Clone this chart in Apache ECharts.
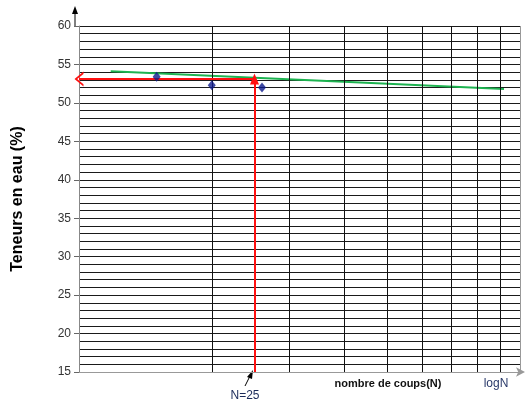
<!DOCTYPE html>
<html>
<head>
<meta charset="utf-8">
<script src="https://cdn.jsdelivr.net/npm/echarts@6/dist/echarts.min.js"></script>
<style>
html, body { margin: 0; padding: 0; background: #fff; }
#chart { width: 530px; height: 407px; }
</style>
</head>
<body>
<div id="chart"></div>
<script>
// points de mesure (N, teneur en eau %)
var coups = [15, 20, 26];
var teneurs = [53.4, 52.3, 52.0];
// droite d'ecoulement
var droiteN = [11.8, 92];
var droiteW = [54.1, 51.8];
// lecture a N=25
var nLecture = 25;
var wLecture = 53.1;
// graduations verticales (echelle log)
var gradN = [20, 30, 40, 50, 60, 70, 80, 90];

var chart = echarts.init(document.getElementById('chart'));
var font = 'Liberation Sans, Arial, sans-serif';

chart.setOption({
	animation: false,
	grid: { left: 79, right: 10, top: 26, bottom: 35 },
	xAxis: {
		type: 'log',
		logBase: 10,
		min: 10,
		max: 100,
		axisLabel: { show: false },
		axisTick: { show: false },
		axisLine: {
			show: true,
			lineStyle: { color: '#999', width: 1 },
			symbol: ['none', 'arrow'],
			symbolSize: [7, 9],
			symbolOffset: [0, 5]
		},
		splitLine: { show: true, lineStyle: { color: '#999', width: 1 } }
	},
	yAxis: [{
		type: 'value',
		min: 15,
		max: 60,
		interval: 1,
		axisLabel: { show: false },
		axisTick: { show: false },
		axisLine: { show: true, lineStyle: { color: '#888' } },
		splitLine: { show: true, lineStyle: { color: '#1a1a1a', width: 1 } },
		name: 'Teneurs en eau (%)',
		nameLocation: 'middle',
		nameRotate: 90,
		nameGap: 53,
		nameTextStyle: { fontFamily: font, fontSize: 16, fontWeight: 'bold', color: '#000' }
	}, {
		type: 'value',
		position: 'left',
		min: 15,
		max: 60,
		interval: 5,
		axisLabel: { show: true, fontFamily: font, fontSize: 12, color: '#333', margin: 8 },
		axisTick: { show: true, length: 5, lineStyle: { color: '#666' } },
		axisLine: { show: false },
		splitLine: { show: false }
	}],
	series: [{
		name: 'grille',
		type: 'line',
		data: [],
		silent: true,
		markLine: {
			silent: true,
			symbol: 'none',
			label: { show: false },
			lineStyle: { color: '#111', width: 1, type: 'solid' },
			data: gradN.map(function(n) { return { xAxis: n }; })
		}
	}, {
		name: 'droite',
		type: 'line',
		data: droiteN.map(function(n, i) { return [n, droiteW[i]]; }),
		symbol: 'none',
		smooth: false,
		lineStyle: { color: '#1db350', width: 2 },
		z: 4
	}, {
		name: 'lecture',
		type: 'line',
		data: [],
		markLine: {
			silent: true,
			label: { show: false },
			animation: false,
			data: [
				[{ coord: [nLecture, 15], symbol: 'none' },
				 { coord: [nLecture, wLecture], symbol: 'triangle', symbolSize: [9, 11] }],
				[{ coord: [nLecture, wLecture], symbol: 'none' },
				 { coord: [10, wLecture], symbol: 'path://M0,10 L5,0 L10,10 L8.4,10 L5,3 L1.6,10 Z', symbolSize: [15, 9] }]
			],
			lineStyle: { color: '#ff1010', width: 2, type: 'solid' }
		},
		z: 5
	}, {
		name: 'points',
		type: 'scatter',
		data: coups.map(function(n, i) { return [n, teneurs[i]]; }),
		symbol: 'diamond',
		symbolSize: [8, 10],
		itemStyle: { color: '#0d1a8c' },
		z: 6
	}],
	graphic: [{
		type: 'line',
		shape: { x1: 75, y1: 27, x2: 75, y2: 12 },
		style: { stroke: '#000', lineWidth: 1 }
	}, {
		type: 'polygon',
		shape: { points: [[75, 6], [72, 14], [78, 14]] },
		style: { fill: '#000' }
	}, {
		type: 'line',
		shape: { x1: 245, y1: 386, x2: 250, y2: 376 },
		style: { stroke: '#000', lineWidth: 1 }
	}, {
		type: 'polygon',
		shape: { points: [[253, 370], [247, 377], [252, 379]] },
		style: { fill: '#000' }
	}, {
		type: 'text',
		x: 245, y: 390,
		style: { text: 'N=25', font: '12px "Liberation Sans Narrow", Arial', fill: '#1a2a5a', textAlign: 'center' }
	}, {
		type: 'text',
		x: 388, y: 378,
		style: { text: 'nombre de coups(N)', font: 'bold 11px "Liberation Sans Narrow", Arial', fill: '#111', textAlign: 'center' }
	}, {
		type: 'text',
		x: 496, y: 378,
		style: { text: 'logN', font: '12px "Liberation Sans Narrow", Arial', fill: '#2a3a6a', textAlign: 'center' }
	}]
});
</script>
</body>
</html>
